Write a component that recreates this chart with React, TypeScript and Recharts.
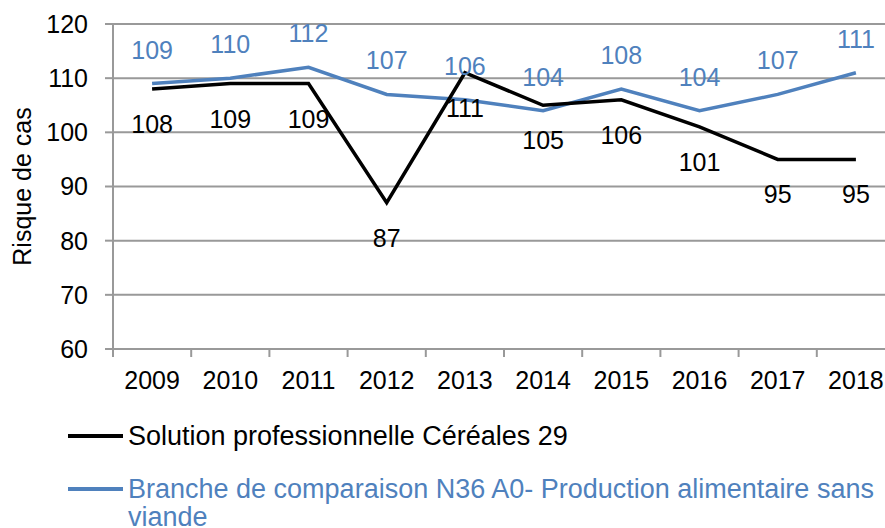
import React from "react"
import {
  CartesianGrid,
  ComposedChart,
  LabelList,
  Legend,
  Line,
  XAxis,
  YAxis,
} from "recharts"

const YEARS = ["2009", "2010", "2011", "2012", "2013", "2014", "2015", "2016", "2017", "2018"]
const SOLUTION = [108, 109, 109, 87, 111, 105, 106, 101, 95, 95]
const BRANCHE = [109, 110, 112, 107, 106, 104, 108, 104, 107, 111]
const Y_TICKS = [60, 70, 80, 90, 100, 110, 120]

const SOLUTION_NAME = "Solution professionnelle Céréales 29"
const BRANCHE_NAME = "Branche de comparaison N36 A0- Production alimentaire sans viande"

const BLACK = "#000000"
const BLUE = "#4F81BD"
const GRID = "#999999"
const FONT = "'Liberation Sans', Arial, sans-serif"

const data = YEARS.map((year, i) => ({
  year,
  solution: SOLUTION[i],
  branche: BRANCHE[i],
}))

const legendItems = [
  { name: SOLUTION_NAME, color: BLACK },
  { name: BRANCHE_NAME, color: BLUE },
]

// year label centred in its band, tick mark on the band's left edge (Excel style)
function YearTick(props: any) {
  const { x, y, width, visibleTicksCount, index, payload } = props
  const half = width / visibleTicksCount / 2
  const isLast = index === visibleTicksCount - 1
  return (
    <g>
      <line x1={x - half} x2={x - half} y1={y} y2={y + 8} stroke={GRID} strokeWidth={2} />
      {isLast && <line x1={x + half} x2={x + half} y1={y} y2={y + 8} stroke={GRID} strokeWidth={2} />}
      <text x={x} y={y + 22} dy="0.71em" textAnchor="middle" fontSize={25} fill={BLACK}>
        {payload.value}
      </text>
    </g>
  )
}

function belowLabel(props: any) {
  const { x, y, value } = props
  return (
    <text x={x} y={y + 35} textAnchor="middle" dominantBaseline="central" fontSize={25} fill={BLACK}>
      {value}
    </text>
  )
}

function aboveLabel(props: any) {
  const { x, y, value } = props
  return (
    <text x={x} y={y - 34} textAnchor="middle" dominantBaseline="central" fontSize={25} fill={BLUE}>
      {value}
    </text>
  )
}

function renderLegend() {
  return (
    <ul style={{ listStyle: "none", margin: 0, padding: "2px 0 0 0" }}>
      {legendItems.map((item) => (
        <li key={item.name} style={{ display: "flex", alignItems: "flex-start", marginBottom: 25 }}>
          <svg width={55} height={28} style={{ flex: "none" }}>
            <line x1={0} x2={55} y1={14} y2={14} stroke={item.color} strokeWidth={4} />
          </svg>
          <span style={{ marginLeft: 5, width: 760, color: item.color, fontSize: 27, lineHeight: "28px" }}>
            {item.name}
          </span>
        </li>
      ))}
    </ul>
  )
}

export default function App() {
  return (
    <div
      style={{
        position: "absolute",
        left: 0,
        top: 0,
        width: 885,
        height: 528,
        overflow: "hidden",
        fontFamily: FONT,
        background: "#fff",
      }}
    >
      <ComposedChart width={910} height={528} data={data} margin={{ top: 24, right: 15, bottom: 0, left: 8 }}>
        <CartesianGrid vertical={false} stroke={GRID} strokeWidth={2} />
        <XAxis
          dataKey="year"
          scale="band"
          height={71}
          stroke={GRID}
          strokeWidth={2}
          tickLine={false}
          tickSize={0}
          tickMargin={0}
          interval={0}
          tick={<YearTick />}
        />
        <YAxis
          domain={[60, 120]}
          ticks={Y_TICKS}
          width={105}
          tickSize={8}
          tickMargin={17}
          stroke={GRID}
          strokeWidth={2}
          tick={{ fontSize: 25, fill: BLACK }}
          label={{
            value: "Risque de cas",
            angle: -90,
            position: "insideLeft",
            offset: 14,
            fontSize: 25,
            fill: BLACK,
            style: { textAnchor: "middle" },
          }}
        />
        <Legend
          verticalAlign="bottom"
          align="left"
          content={renderLegend}
          wrapperStyle={{ left: 68, width: 830, height: 108 }}
        />
        <Line
          dataKey="branche"
          name={BRANCHE_NAME}
          stroke={BLUE}
          strokeWidth={3.5}
          dot={false}
          isAnimationActive={false}
        >
          <LabelList dataKey="branche" content={aboveLabel} />
        </Line>
        <Line
          dataKey="solution"
          name={SOLUTION_NAME}
          stroke={BLACK}
          strokeWidth={3.5}
          dot={false}
          isAnimationActive={false}
        >
          <LabelList dataKey="solution" content={belowLabel} />
        </Line>
      </ComposedChart>
    </div>
  )
}
